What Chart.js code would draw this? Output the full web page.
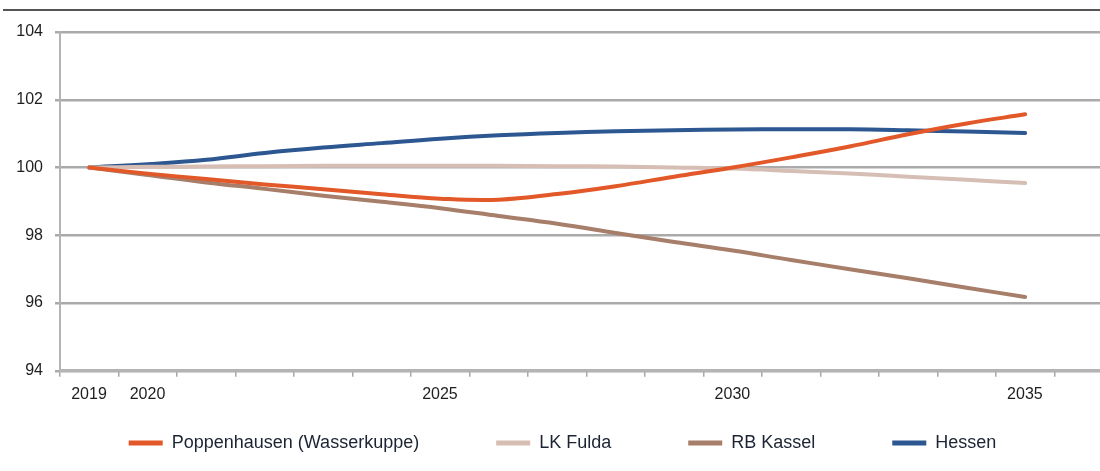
<!DOCTYPE html>
<html>
<head>
<meta charset="utf-8">
<script src="https://cdn.jsdelivr.net/npm/chart.js@4/dist/chart.umd.min.js"></script>
<style>
  body { margin: 0; background: #fff; }
  #wrap { position: relative; width: 1100px; height: 471px; overflow: hidden; }
  #topline { position: absolute; left: 3px; right: 0; top: 9px; height: 2px; background: #555; }
</style>
</head>
<body>
<div id="wrap">
  <div id="topline"></div>
  <canvas id="lineChart"></canvas>
</div>
<script>
// Bevoelkerungsentwicklung, Index 2019 = 100
var years = [2019, 2020, 2021, 2022, 2023, 2024, 2025, 2026, 2027, 2028, 2029, 2030, 2031, 2032, 2033, 2034, 2035]
var yearLabels = [2019, 2020, 2025, 2030, 2035]
var seriesNames = ["Poppenhausen (Wasserkuppe)", "LK Fulda", "RB Kassel", "Hessen"]
var poppenhausen = [100, 99.82, 99.66, 99.5, 99.36, 99.21, 99.08, 99.05, 99.22, 99.45, 99.73, 100.0, 100.3, 100.62, 100.98, 101.3, 101.57]
var fulda = [100, 100.02, 100.03, 100.04, 100.05, 100.05, 100.05, 100.05, 100.04, 100.03, 100.0, 99.97, 99.9, 99.82, 99.73, 99.64, 99.54]
var kassel = [100, 99.78, 99.56, 99.37, 99.17, 98.99, 98.8, 98.57, 98.34, 98.07, 97.8, 97.55, 97.27, 97.0, 96.73, 96.45, 96.18]
var hessen = [100, 100.1, 100.23, 100.43, 100.59, 100.72, 100.85, 100.95, 101.02, 101.07, 101.1, 101.12, 101.13, 101.13, 101.1, 101.06, 101.02]
var colors = ['rgb(226, 88, 40)', 'rgb(214, 190, 180)', 'rgb(166, 126, 105)', 'rgb(44, 87, 145)']

function pts(vals) {
  return vals.map(function (v, i) { return { x: years[i], y: v } })
}

var allSeries = [poppenhausen, fulda, kassel, hessen]
var datasets = allSeries.map(function (vals, i) {
  return {
    label: seriesNames[i],
    data: pts(vals),
    borderColor: colors[i],
    backgroundColor: colors[i],
    borderWidth: 4,
    pointRadius: 0,
    tension: 0.4,
    borderCapStyle: 'round'
  }
})

Chart.defaults.font.family = '"Liberation Sans", Arial, sans-serif'

var ctx = document.getElementById('lineChart').getContext('2d')
var myLineChart = new Chart(ctx, {
  type: 'line',
  data: { datasets: datasets },
  options: {
    responsive: true,
    maintainAspectRatio: false,
    animation: false,
    devicePixelRatio: 1,
    // negative right padding only nudges the legend to the right
    layout: { padding: { top: 32, left: 0, right: -25, bottom: 9 } },
    scales: {
      x: {
        type: 'linear',
        min: 2018.5,
        max: 2036.28,
        afterBuildTicks: function (scale) {
          var t = []
          for (var v = 2018.5; v <= 2036.28; v += 1) t.push({ value: v })
          scale.ticks = t
        },
        grid: { drawOnChartArea: false, drawTicks: true, tickLength: 6, color: '#a8a8a8', lineWidth: 1.5 },
        border: { color: '#b4b4b4', width: 3 },
        ticks: {
          autoSkip: false,
          maxRotation: 0,
          padding: 8,
          labelOffset: 29,
          color: '#1e1e1e',
          font: { size: 16 },
          callback: function (value) {
            var y = Math.round(value + 0.5)
            return yearLabels.indexOf(y) >= 0 ? String(y) : ''
          }
        }
      },
      y: {
        min: 94,
        max: 104,
        afterFit: function (scale) { scale.width = 60 },
        grid: { color: '#aaaaaa', lineWidth: 2.5, tickLength: 5 },
        border: { color: '#b4b4b4', width: 2 },
        ticks: { stepSize: 2, padding: 12, color: '#1e1e1e', font: { size: 16 } }
      }
    },
    plugins: {
      tooltip: { enabled: false },
      legend: {
        position: 'bottom',
        labels: {
          boxWidth: 34,
          boxHeight: 5,
          padding: 22,
          color: '#1c2433',
          font: { size: 18 },
          generateLabels: function (chart) {
            var items = Chart.defaults.plugins.legend.labels.generateLabels(chart)
            items.forEach(function (it, i) {
              it.lineWidth = 0
              if (i < items.length - 1) it.text += '\u00a0'.repeat(11)
            })
            return items
          }
        }
      }
    }
  }
})
</script>
</body>
</html>
